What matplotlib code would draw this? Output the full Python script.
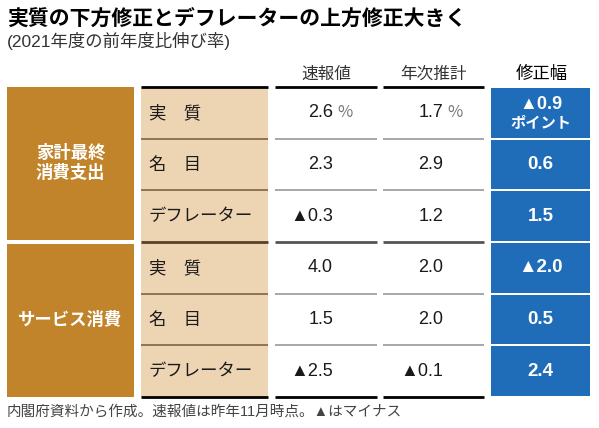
import matplotlib
matplotlib.use("Agg")
import matplotlib.pyplot as plt
from matplotlib.patches import Rectangle

plt.rcParams['font.family'] = ['Noto Sans CJK JP', 'DejaVu Sans']
NUMFONT = ['Liberation Sans', 'Noto Sans CJK JP']

# data
title = '実質の下方修正とデフレーターの上方修正大きく'
subtitle = '(2021年度の前年度比伸び率)'
note = '内閣府資料から作成。速報値は昨年11月時点。▲はマイナス'
headers = ['速報値', '年次推計', '修正幅']
groups = ['家計最終\n消費支出', 'サービス消費']
items = ['実　質', '名　目', 'デフレーター']
prelim = [2.6, 2.3, -0.3, 4.0, 1.5, -2.5]
annual = [1.7, 2.9, 1.2, 2.0, 2.0, -0.1]
revision = [-0.9, 0.6, 1.5, -2.0, 0.5, 2.4]

ORANGE = '#c1842b'
TAN = '#edd4b2'
BLUE = '#1f6cb8'


def fmt(v):
    s = '%.1f' % abs(v)
    return '▲' + s if v < 0 else s


fig = plt.figure(figsize=(5.99, 4.28), dpi=100)
ax = fig.add_axes([0, 0, 1, 1])
ax.set_xlim(0, 599)
ax.set_ylim(428, 0)
ax.axis('off')

# layout
top = 87
rh = (397 - top) / 6
grp_x = (7, 134)
lab_x = (141, 268)
c1 = (275, 377)
c2 = (383, 484)
c3 = (491, 590)

ax.text(7, 18, title, fontsize=15, fontweight='bold', va='center', ha='left')
ax.text(7, 41, subtitle, fontsize=12.5, color='#333333', family=NUMFONT,
        va='center', ha='left')

# headers
ax.text(sum(c1) / 2, 74, headers[0], fontsize=12, color='#333333', ha='center', va='center')
ax.text(sum(c2) / 2, 74, headers[1], fontsize=12, color='#333333', ha='center', va='center')
ax.text(sum(c3) / 2 + 1, 74, headers[2], fontsize=12.5, color='black', ha='center', va='center')

# group blocks
for g, name in enumerate(groups):
    y0 = top + g * 3 * rh + (0 if g == 0 else 1.5)
    y1 = top + (g + 1) * 3 * rh - (2.5 if g == 0 else 0)
    ax.add_patch(Rectangle((grp_x[0], y0), grp_x[1] - grp_x[0], y1 - y0,
                           facecolor=ORANGE, edgecolor='none'))
    ax.text(sum(grp_x) / 2, (y0 + y1) / 2, name, fontsize=12.5, fontweight='bold',
            color='white', ha='center', va='center', linespacing=1.15)

# label column background
ax.add_patch(Rectangle((lab_x[0], top), lab_x[1] - lab_x[0], 6 * rh,
                       facecolor=TAN, edgecolor='none'))

for i in range(6):
    y0 = top + i * rh
    yc = y0 + rh / 2
    ax.text(lab_x[0] + 8, yc, items[i % 3], fontsize=12.5, color='#1a1a1a',
            ha='left', va='center')
    ax.text(c1[0] + 58, yc, fmt(prelim[i]), fontsize=13, color='#1a1a1a',
            family=NUMFONT, ha='right', va='center')
    ax.text(c2[0] + 60, yc, fmt(annual[i]), fontsize=13, color='#1a1a1a',
            family=NUMFONT, ha='right', va='center')
    if i == 0:
        ax.text(c1[0] + 62, yc, '%', fontsize=12, color='#777777', ha='left', va='center')
        ax.text(c2[0] + 64, yc, '%', fontsize=12, color='#777777', ha='left', va='center')
    ax.add_patch(Rectangle((c3[0], y0 + 1), c3[1] - c3[0], rh - 2,
                           facecolor=BLUE, edgecolor='none'))
    if i == 0:
        ax.text(sum(c3) / 2, yc - 8, fmt(revision[i]), fontsize=13, fontweight='bold',
                family=NUMFONT, color='white', ha='center', va='center')
        ax.text(sum(c3) / 2, yc + 9, 'ポイント', fontsize=11, fontweight='bold',
                color='white', ha='center', va='center')
    else:
        ax.text(sum(c3) / 2, yc, fmt(revision[i]), fontsize=13.5, fontweight='bold',
                family=NUMFONT, color='white', ha='center', va='center')

# row rules
for k in range(7):
    y = top + k * rh
    if k in (0, 6):
        lc, lw, tc, tw = 'black', 2, 'black', 2
    elif k == 3:
        lc, lw, tc, tw = '#5a3f28', 2, '#555555', 2
    else:
        lc, lw, tc, tw = '#8a6a4a', 1.3, '#a0a0a0', 1.3
    ax.plot(lab_x, [y, y], color=lc, lw=lw, solid_capstyle='butt')
    ax.plot(c1, [y, y], color=tc, lw=tw, solid_capstyle='butt')
    ax.plot(c2, [y, y], color=tc, lw=tw, solid_capstyle='butt')

ax.text(7, 412, note, fontsize=10.5, color='#444444', family=NUMFONT,
        ha='left', va='center')

fig.savefig('out.png', dpi=100)
